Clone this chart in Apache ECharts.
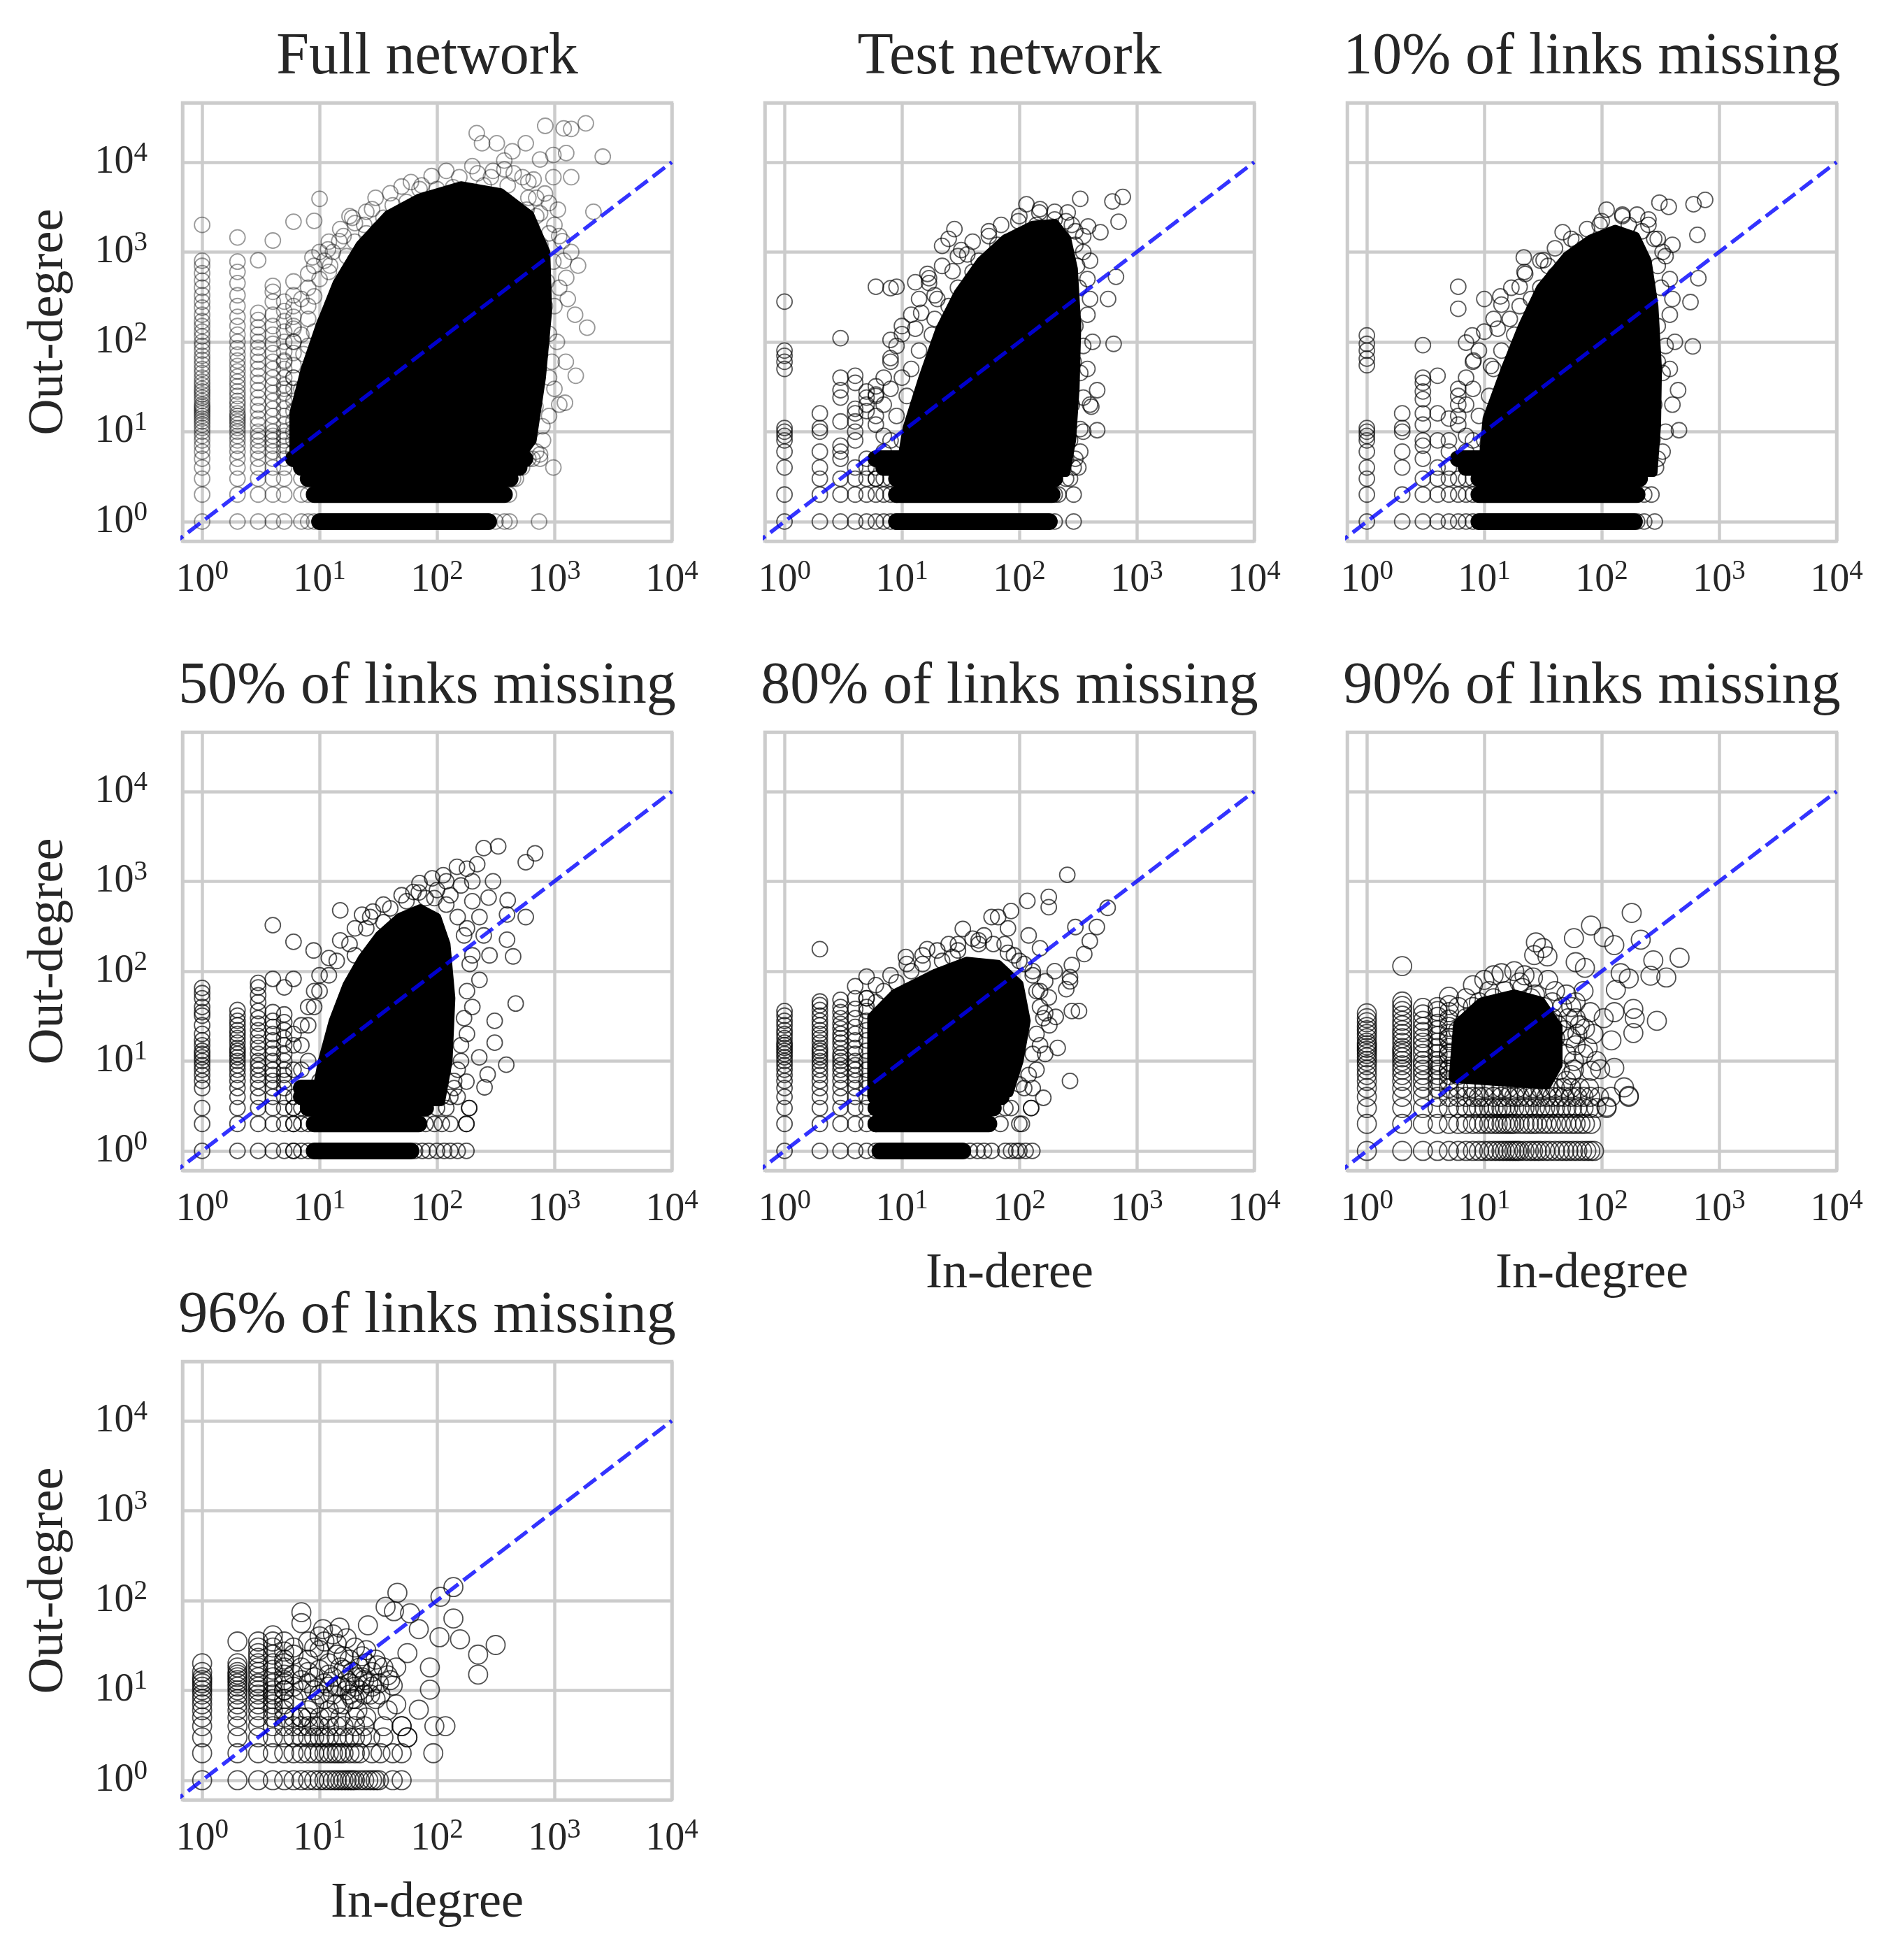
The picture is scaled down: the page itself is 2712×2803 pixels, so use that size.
<!DOCTYPE html>
<html>
<head>
<meta charset="utf-8">
<script src="https://cdn.jsdelivr.net/npm/echarts@6/dist/echarts.min.js"></script>
<style>
  html, body { margin: 0; padding: 0; background: #fff; }
  #chart { width: 2712px; height: 2803px; }
</style>
</head>
<body>
<div id="chart"></div>
<script>
// in-degree vs out-degree, one panel per network sample
const titles = ['Full network', 'Test network', '10% of links missing', '50% of links missing',
  '80% of links missing', '90% of links missing', '96% of links missing']
const xNames = ['', '', '', '', 'In-deree', 'In-degree', 'In-degree']
const yNames = ['Out-degree', '', '', 'Out-degree', '', '', 'Out-degree']
const xRange = [0.68, 10000]
const yRange = [0.605, 45700]
const diagonal = [[0.1, 0.1], [10000, 10000]]

// columns: [in-degree, [out-degrees]], rows: [out-degree, [in-degrees]]
// bands: [out-degree, from in-degree, to in-degree] where the markers run solid
// core: outline of the saturated black mass, pts: the loose markers

const fullCols = [
  [1, [1,2,3,4,5,6,7,8,9,10,11,12,13,14,15,16,17,18,19,20,22,24,26,28,30,33,36,40,45,50,56,63,70,80,90,100,115,130,150,170,200,240,280,330,400,480,580,700,800,2000]],
  [2, [1,2,3,4,5,6,7,8,9,10,11,12,13,14,15,16,18,20,22,25,28,32,36,41,47,54,62,72,85,100,120,150,190,250,330,450,600,780,1450]],
  [3, [1,2,3,4,5,6,7,8,9,10,12,14,17,20,24,29,35,42,50,60,72,86,100,120,145,175,210,810]],
  [4, [1,2,3,4,5,6,7,8,9,10,12,15,18,22,27,33,40,50,60,75,95,120,150,200,280,360,420,1340]],
  [5, [1,2,3,4,5,6,7,8,9,10,12,15,18,22,27,33,40,50,62,78,100,130,170,220,280]],
  [6, [6,8,10,13,17,22,30,40,55,75,100,140,190,250,330,470,2170]]
]
const fullRows = [[1, [7,8,9,315,375,415,740]], [2, [7,8,410]], [3, [7,445,470]], [4, [530]], [5, [600,755]]]
const fullBands = [[1, 10, 275], [2, 9, 375], [3, 8, 420], [4, 7, 500], [5, 6, 560]]
const fullCore = [[6,5],[6,16],[7.5,50],[10,150],[14,450],[22,1200],[38,2600],[70,4000],[160,5500],[350,4600],
  [620,2600],[850,1000],[880,220],[780,40],[650,8],[500,5]]
const fullPts = [
  [218,21000],[242,16200],[323,16200],[438,13200],[570,16200],[835,25300],[1200,23700],[1390,23400],[1850,27000],
  [2580,11500],[374,10400],[755,10700],[980,12000],[1260,12600],[980,6800],[1390,6800],[665,6400],
  [10,3900],[9,2220],[19,2400],[20,2090],[50,5350],[74,5500],[137,5250],
  [1520,42],[1900,144],[755,5.6],[980,4],[1230,21],[1590,705],[1260,515],[1390,1000],[2150,2800],
  [8,575],[8.7,870],[11.8,1070],[14.7,1320],[12.3,705],[8,250],[7.3,73],[25,1610],[32,1780],[35,2400],[42,3300],
  [55,3600],[71,5000],[100,5000],[155,6800],[222,7500],[288,6800],[375,8300],[535,6800],[830,4470],[580,2960],
  [755,2690],[1070,2960],[900,1610],[1170,1320],[980,780],[860,470],[830,250],[690,167],[900,123],[755,73],
  [900,40],[630,36],[690,19],[575,11.5],[535,7.6],[445,5.6],[790,11.5],
  [20,800],[15,400],[11,160],[9,60],[12,30],[30,1500],[45,2200],[80,3000],[140,4000],[250,5500],[400,5500],
  [600,4000],[700,2500],[760,1200],[750,500],[700,300],[650,150],[600,60],[550,25],[480,12],[420,7],[380,6],
  [5,30],[5,60],[6,100],[6,150],[7,300],[8,400],[9,700],[10,1000],[12,1300],[15,1800],[18,2500],[25,2800],
  [30,4000],[40,4500],[60,6000],[90,7000],[120,8000],[200,9000],[300,8000],[450,7500],[600,6000],[700,4000],
  [900,3500],[1000,2000],[1100,1500],[1200,800],[1100,400],[1000,250],[1050,100],[950,60],[1000,30],[900,15],
  [800,8],[700,6],[650,5],[1300,300],[1500,200],[1250,60],[1100,20],
  [6,40],[7,120],[8,180],[9,320],[10,500],[11,800],[13,1000],[16,1500],[20,1300],[24,2000],[28,3000],[17,900],
  [12,600],[9,130],[7,30],[8,90]
]

const testCols = [
  [1, [1,2,4,6,8,9,10,11,50,60,70,80,280]],
  [2, [1,2,3,4,6,10,11,16]],
  [3, [1,2,3,5,6,7,13,24,29,40,110]],
  [4, [1,2,3,4,8,10,13,16,18,35,42]],
  [5, [1,2,3,4,5,17,20,24,28]],
  [6, [1,2,3,4,26,32,410]]
]
const testRows = [[1, [7,8,9,200,290]], [2, [7,8,9,200,215,290]], [3, [6,7,8,250,270]], [4, [290,318]]]
const testBands = [[1, 9, 180], [2, 9, 190], [3, 9, 200], [4, 7, 230], [5, 6, 240]]
const testCore = [[9.5,3.5],[11,11],[15,40],[21,140],[30,350],[47,800],[75,1400],[130,2000],[200,2100],
  [255,1400],[290,650],[310,150],[300,30],[280,8],[250,3.5]]
const testPts = [
  [8,395],[9,410],[13,460],[17,510],[19,330],[22,1170],[32,1050],[55,1700],[115,3400],[330,3900],[760,4100],
  [620,3650],[700,2170],[258,2750],[148,2750],[98,2200],[169,1660],[460,29],[460,10.4],[635,95],[570,300],
  [665,530],[330,10.7],[410,19],[350,24],[10,122],[8,105],[8,66],[10,40],[16.5,570],[19,180],[14.6,210],
  [27,610],[36,940],[385,1920],[490,1660],
  [7,20],[8,30],[9,15],[11,25],[12,50],[14,80],[13,140],[18,120],[20,300],[25,250],[30,400],[40,600],[45,800],
  [60,900],[80,1300],[90,1000],[120,1500],[180,1800],[230,1400],[300,1200],[310,700],[320,400],[300,150],
  [290,60],[280,20],[270,8],[250,5],[6,12],[7,9],[10,8],[12,6],[15,5],[25,1400],[28,1800],[65,1200],[140,2000],
  [200,2300],[280,2000],[350,1500],[400,800],[380,200],[350,90],[330,45],
  [6,15],[6,25],[7,40],[8,60],[9,90],[10,150],[12,200],[14,300],[17,450],[22,700],[30,900],[40,1300],[55,1500],
  [70,2000],[100,2500],[150,3000],[200,2800],[250,2200],[300,1700],[350,1000],[380,500],[400,300],[420,100],
  [380,50],[400,20],[350,10],[330,6],[300,5],[7,6],[8,8]
]

const m10Cols = [
  [1, [1,2,3,4,6,8,9,10,11,55,65,80,95,118]],
  [2, [1,2,4,6,10,11,16]],
  [3, [1,2,3,5,7,8,12,16,23,28,35,40,92]],
  [4, [1,2,3,4,8,16,42]],
  [5, [1,2,3,4,6,8,14]],
  [6, [20,30,233,410]]
]
const m10Rows = [[1, [6,7,8,200,230,283]], [2, [6,7,8,230,265]], [3, [6,7,8]], [4, [290]]]
const m10Bands = [[1, 9, 190], [2, 9, 200], [3, 9, 210], [4, 7, 240], [5, 6, 250]]
const m10Core = [[9.5,3.5],[10.5,14],[15,50],[21,150],[30,400],[50,900],[80,1400],[130,1800],[195,1500],
  [245,800],[280,250],[300,50],[295,12],[275,3.5]]
const m10Pts = [
  [10,300],[13.7,320],[21.7,870],[20,410],[46.5,1660],[96,2000],[110,2950],[310,3540],[372,3170],[605,3400],
  [760,3800],[653,1550],[665,510],[570,277],[596,89],[447,29],[455,10.4],[7.9,118],[7,98],[8.1,62],[11.4,54],
  [16.5,180],[22.3,570],[32,810],
  [7,20],[8,30],[9,15],[11,25],[12,50],[14,80],[13,140],[18,120],[20,250],[25,300],[30,400],[40,550],[50,700],
  [70,1000],[90,1300],[120,1500],[170,2000],[220,1700],[280,1400],[330,1000],[300,700],[320,400],[300,150],
  [300,60],[280,20],[270,8],[250,5],[6,12],[7,9],[10,8],[12,6],[15,5],[150,2500],[250,2300],[400,1200],
  [380,200],[350,90],[330,45],[60,1300],[35,700],
  [6,15],[6,25],[7,40],[8,60],[9,80],[10,130],[12,180],[14,260],[17,400],[22,600],[30,800],[40,1100],[55,1400],
  [75,1800],[100,2200],[150,2600],[200,2600],[250,2000],[300,1400],[350,900],[380,500],[400,300],[420,100],
  [380,50],[400,20],[350,10],[330,6],[300,5],[7,6],[8,8]
]

const m50Cols = [
  [1, [1,2,3,5,6,7,8,9,10,11,12,13,15,17,20,25,32,35,40,50,57,65]],
  [2, [1,2,3,4,5,6,7,8,9,10,11,12,13,14,16,18,20,22,25,28,32,37]],
  [3, [1,2,3,4,5,6,7,8,9,10,12,14,16,19,22,26,30,36,45,54,66,74]],
  [4, [1,2,3,4,5,6,7,8,10,12,14,17,20,24,28,35,82,325]],
  [5, [1,2,3,4,5,6,7,8,10,12,15,18,22,27,33,66]],
  [6, [1,2,3,4,82,212]]
]
const m50Rows = [[1, [6,7,8,65,75,85,100,115,130,150,178]], [2, [6,7,8,80,95,110,130,178]],
  [3, [6,7,100,120,188]], [4, [110,130,150]]]
const m50Bands = [[1, 9, 60], [2, 9, 70], [3, 8, 80], [4, 7, 90], [5, 7, 100]]
const m50Core = [[9,3.5],[10.5,10],[13,28],[17,70],[23,140],[32,250],[48,400],[72,500],[100,400],[120,200],
  [132,50],[125,10],[108,3.5]]
const m50Pts = [
  [15,475],[23,425],[28.5,460],[8.9,170],[71,955],[91,1080],[113,1170],[148,1450],[180,1380],[200,1000],
  [250,2340],[332,2450],[220,1550],[570,1630],[685,2050],[400,615],[570,400],[395,224],[445,146],[468,43.6],
  [310,28],[310,16],[389,9.1],[270,7.1],[254,5.1],[229,11],[178,5.9],[188,3],[178,2],[395,427],[275,660],[63,760],
  [7,15],[8,25],[9,40],[10,60],[12,90],[14,130],[18,200],[25,300],[35,350],[40,500],[55,600],[80,650],[100,800],
  [130,700],[160,900],[200,600],[230,400],[250,250],[200,150],[230,80],[200,40],[180,20],[160,10],[140,6],
  [8,10],[7,8],[10,6],[20,150],[6,20],[120,1000],[300,1000],[180,300],[280,150],
  [6,8],[6,15],[7,25],[8,40],[9,60],[10,90],[12,140],[15,220],[20,300],[27,400],[35,550],[50,700],[70,750],
  [95,650],[120,550],[150,400],[170,250],[190,120],[180,60],[170,30],[160,15],[150,8],[140,5]
]

const m80Cols = [
  [1, [1,2,3,4,5,6,7,8,9,10,11,12,13,14,15,16,18,20,22,25,28,32,36]],
  [2, [1,2,3,4,5,6,7,8,9,10,11,12,13,14,16,18,20,22,25,28,32,37,42,46,176]],
  [3, [1,2,3,4,5,6,7,8,9,10,11,12,14,16,18,20,23,26,30,35,40,48]],
  [4, [1,2,3,4,5,6,7,8,9,10,12,14,17,20,24,30,38,50,68]],
  [5, [1,2,3,4,5,6,8,10,13,17,22,28,36,50,87]]
]
const m80Rows = [[1, [6,7,38,44,50,58,76,85,94,100,113,129]], [2, [6,69,100]], [3, [6,76,85,126]]]
const m80Bands = [[1, 6.5, 33], [2, 6, 55], [3, 6, 60], [4, 6, 70], [5, 6, 75]]
const m80Core = [[5.5,4],[5.5,31],[8.7,57],[19,95],[35.5,130],[66,120],[100,72],[115,28],[100,10],[82,4.4]]
const m80Pts = [
  [10.8,144],[16.4,176],[27,144],[33,295],[58,400],[66,400],[85,467],[117,605],[178,670],[178,515],[256,1180],
  [300,310],[565,507],[457,310],[398,216],[357,155],[280,117],[270,86],[322,36],[280,36],[204,31],[212,14],
  [166,12],[270,6],[160,3.9],[126,3],[105,2],[166,34],[166,77],[178,51],[270,77],[251,63],
  [7,60],[9,75],[12,100],[15,120],[22,130],[30,170],[45,200],[50,250],[75,200],[90,150],[110,120],[130,90],
  [140,60],[150,40],[140,20],[130,12],[120,7],[110,5],[6,45],[5,40],[25,200],[40,230],[80,300],[120,250],
  [150,180],[200,100],[180,25],[100,5.5],
  [5,50],[6,70],[8,90],[11,120],[15,150],[20,170],[30,200],[45,220],[60,200],[80,160],[100,130],[130,100],
  [150,60],[160,30],[150,15],[140,8],[130,5]
]

const m90Cols = [
  [1, [1,2,3,4,5,6,7,8,9,10,11,12,13,14,15,16,18,20,22,24,27,30,34]],
  [2, [1,2,3,4,5,6,7,8,9,10,11,12,13,14,16,18,20,22,25,28,32,36,41,46,114]],
  [3, [1,2,3,4,5,6,7,8,9,10,12,14,16,18,21,24,28,33,39]],
  [4, [1,2,3,4,5,6,7,8,9,10,12,14,16,19,22,26,31,36,40]],
  [5, [1,2,3,4,5,6,7,8,10,12,14,17,20,24,29,35,42,52]]
]
const m90Rows = [
  [1, [6,7,8,9,10,11,12,13,14,15,16,17,18,19,20,22,24,26,28,30,33,36,40,44,48,52,57,62,68,74,80,86]],
  [2, [6,7,8,9,10,11,12,13,14,15,16,17,18,20,22,24,26,28,31,34,37,41,45,50,55,60,66,72,81]],
  [3, [6,7,8,9,10,11,12,13,14,15,16,18,20,22,24,27,30,33,36,40,45,50,56,62,70,79,90,110]],
  [4, [6,7,8,9,10,12,14,16,18,20,23,26,30,34,38,43,48,55,62,70,80,95,120,170]],
  [5, [6,7,8,10,12,14,16,19,22,26,30,35,40,47,55,65,78]]
]
const m90Bands = []
const m90Core = [[5.5,6.5],[6,26],[9.5,45],[18,55],[30,46],[42,24],[42,9],[34,5.5]]
const m90Pts = [
  [180,445],[81,322],[104,240],[58,233],[128,195],[215,224],[27.5,209],[31.5,181],[34.5,146],[26.6,151],
  [60,126],[72,109],[275,132],[460,141],[260,89],[355,85],[145,95],[170,83],[132,62],[128,35],[186,38],[191,30],
  [295,28],[186,20.5],[121,17],[128,8.4],[97,8.1],[155,5.1],[170,4.1],[110,3.1],[76,14],[81,7.8],[104,30],[72,23],
  [6,40],[7,50],[8,70],[10,80],[12,90],[14,95],[18,100],[22,90],[26,85],[35,80],[40,60],[50,55],[55,40],[60,30],
  [62,20],[60,15],[58,10],[55,7],[50,6],[9,45],[11,60],[20,75],[25,50],[38,45],[42,25],[30,20],[15,40],[20,15],
  [35,10],[25,8],[12,25],[9,20],
  [5,8],[5,12],[5,18],[6,7],[6,22],[7,9],[7,14],[7,30],[8,11],[8,18],[8,40],[9,8],[9,25],[10,12],[10,35],[11,9],
  [11,18],[12,28],[12,50],[13,14],[14,8],[14,22],[15,60],[16,12],[16,35],[18,18],[18,45],[19,9],[20,28],[21,65],
  [22,14],[23,40],[25,20],[26,9],[27,55],[28,30],[30,14],[32,40],[33,22],[36,10],[38,30],[40,18],[44,8],[46,40],
  [48,22],[50,12],[52,30],[55,18],[58,8],[60,45],[65,25],[70,12],[70,60],[80,35],[85,20],[90,10]
]

const m96Cols = [
  [1, [1,2,3,4,5,6,7,8,9,10,11,12,13,14,16,20]],
  [2, [1,2,3,4,5,6,7,8,9,10,11,12,13,14,15,16,18,20,35]],
  [3, [1,2,3,4,5,6,7,8,9,10,11,12,14,16,18,20,23,26,30,35]],
  [4, [1,2,3,4,5,6,7,8,9,10,12,14,17,20,25,30,35,41]],
  [5, [1,2,3,4,5,6,7,8,10,12,15,18,22,27,35]]
]
const m96Rows = [
  [1, [6,7,8,9,10,11,12,13,14,15,16,17,18,19,20,22,24,26,28,30,32,42,50]],
  [2, [6,7,8,9,10,11,12,13,14,15,16,18,20,22,28,33,42,50,93]],
  [3, [6,7,8,9,10,11,12,14,16,18,20,23,27,35,56]],
  [4, [6,7,8,9,10,12,14,16,20,24,35,50,95,118]],
  [5, [6,7,8,10,12,15,20,25]]
]
const m96Bands = []
const m96Core = []
const m96Pts = [
  [7,74],[7,56],[10.7,48],[14.8,50],[25.8,53],[46,122],[36.5,85],[43,76],[59,72],[70,48],[107,110],[138,141],
  [138,63],[157,37],[105,39],[56,26],[87,18],[224,25],[224,15],[316,32],[87,10.2],[70,6.1],[42,11.3],[31,19],
  [38,14.7],[50,4],[56,3],
  [5,20],[6,15],[6,25],[7,10],[7,18],[8,12],[8,22],[9,7],[9,14],[10,9],[10,17],[10,28],[11,12],[12,6],[12,20],
  [13,9],[13,14],[14,25],[15,11],[16,7],[16,17],[17,13],[18,9],[18,22],[19,16],[20,11],[21,6],[22,18],[23,14],
  [24,9],[25,20],[26,12],[28,16],[30,8],[30,22],[6,8],[7,5],[8,6],[5,10],[5,13],[6,11],[9,30],[11,35],[14,33],
  [20,30],[25,28],[32,12],[35,18],[8,16],[9,10],[11,8],[12,15],[14,11],[15,18],[16,24],[18,12],[20,8],[22,10],
  [24,13],[27,9],[7,13],[6,30],[8,35],[10,40],[13,42],[17,38],[19,8],[12,11],[14,7],[17,10],[21,14],[23,24],
  [28,11],[33,9],[38,6],[45,7],[40,13],[45,18]
]

const panels = [
  { cols: fullCols, rows: fullRows, bands: fullBands, core: fullCore, pts: fullPts },
  { cols: testCols, rows: testRows, bands: testBands, core: testCore, pts: testPts },
  { cols: m10Cols, rows: m10Rows, bands: m10Bands, core: m10Core, pts: m10Pts },
  { cols: m50Cols, rows: m50Rows, bands: m50Bands, core: m50Core, pts: m50Pts },
  { cols: m80Cols, rows: m80Rows, bands: m80Bands, core: m80Core, pts: m80Pts },
  { cols: m90Cols, rows: m90Rows, bands: m90Bands, core: m90Core, pts: m90Pts },
  { cols: m96Cols, rows: m96Rows, bands: m96Bands, core: m96Core, pts: m96Pts }
]

// look
const FONT = '"Liberation Serif", "DejaVu Serif", serif'
const INK = '#262626'
const GRID = '#cccccc'
const ringSize = [22, 22, 22, 22, 22, 27, 27]
const ringAlpha = [0.5, 0.8, 0.8, 0.85, 0.85, 0.85, 0.85]

const chart = echarts.init(document.getElementById('chart'), null, { renderer: 'canvas' })

function boxOf(i) {
  const c = i % 3, r = Math.floor(i / 3)
  return { left: 261 + c * 833, top: 147 + r * 900, width: 700, height: 627 }
}

function markers(p) {
  const out = []
  p.cols.forEach(([x, ys]) => ys.forEach(y => out.push([x, y])))
  p.rows.forEach(([y, xs]) => xs.forEach(x => out.push([x, y])))
  p.pts.forEach(pt => out.push(pt))
  return out
}

function powLabel(v) {
  const e = Math.log10(v)
  const k = Math.round(e)
  if (Math.abs(e - k) > 1e-6) return ''
  return '{b|10}{s|' + k + '}'
}

const tickRich = {
  b: { fontFamily: FONT, fontSize: 56, color: INK, lineHeight: 64 },
  s: { fontFamily: FONT, fontSize: 39, color: INK, lineHeight: 36, verticalAlign: 'top' }
}

const grids = [], xAxes = [], yAxes = [], series = [], titleList = []

panels.forEach((p, i) => {
  const b = boxOf(i)
  grids.push({
    left: b.left, top: b.top, width: b.width, height: b.height,
    show: true, borderColor: GRID, borderWidth: 4.5, backgroundColor: '#fff',
    containLabel: false, outerBoundsMode: 'none'
  })
  xAxes.push({
    type: 'log', logBase: 10, gridIndex: i, min: xRange[0], max: xRange[1],
    axisLine: { show: false }, axisTick: { show: false },
    splitLine: { show: true, lineStyle: { color: GRID, width: 4.5 } },
    axisLabel: { formatter: powLabel, rich: tickRich, margin: 24 },
    name: xNames[i], nameLocation: 'middle', nameGap: 112,
    nameTextStyle: { fontFamily: FONT, fontSize: 72, color: INK }
  })
  yAxes.push({
    type: 'log', logBase: 10, gridIndex: i, min: yRange[0], max: yRange[1],
    axisLine: { show: false }, axisTick: { show: false },
    splitLine: { show: true, lineStyle: { color: GRID, width: 4.5 } },
    axisLabel: { show: i % 3 === 0, formatter: powLabel, rich: tickRich, margin: 50 },
    name: yNames[i], nameLocation: 'middle', nameGap: 155, nameRotate: 90,
    nameTextStyle: { fontFamily: FONT, fontSize: 72, color: INK }
  })
  titleList.push({
    text: titles[i], left: b.left + b.width / 2, top: b.top - 106, textAlign: 'center', padding: 0,
    textStyle: { fontFamily: FONT, fontSize: 84, fontWeight: 'normal', color: INK }
  })

  const r = ringSize[i] / 2 + 1
  if (p.core.length) {
    series.push({
      type: 'custom', xAxisIndex: i, yAxisIndex: i, clip: true, z: 2, silent: true,
      data: [[1, 1]],
      renderItem: (params, api) => ({
        type: 'polygon',
        shape: { points: p.core.map(pt => api.coord(pt)) },
        style: { fill: '#000', stroke: '#000', lineWidth: r, lineJoin: 'round' }
      })
    })
  }
  if (p.bands.length) {
    series.push({
      type: 'custom', xAxisIndex: i, yAxisIndex: i, clip: true, z: 2, silent: true,
      data: p.bands,
      renderItem: (params, api) => {
        const a = api.coord([api.value(1), api.value(0)])
        const c = api.coord([api.value(2), api.value(0)])
        return {
          type: 'rect',
          shape: { x: a[0] - r, y: a[1] - r, width: c[0] - a[0] + 2 * r, height: 2 * r, r: r },
          style: { fill: '#000' }
        }
      }
    })
  }
  series.push({
    type: 'scatter', xAxisIndex: i, yAxisIndex: i, z: 3, silent: true,
    symbol: 'circle', symbolSize: ringSize[i],
    itemStyle: { color: 'rgba(0,0,0,0)', borderColor: 'rgba(0,0,0,' + ringAlpha[i] + ')', borderWidth: 1.8 },
    data: markers(p)
  })
  series.push({
    type: 'line', xAxisIndex: i, yAxisIndex: i, z: 4, silent: true, clip: true,
    symbol: 'none', data: diagonal,
    lineStyle: { color: 'rgba(0,0,255,0.8)', width: 5.5, type: [22, 9] }
  })
})

chart.setOption({
  backgroundColor: '#fff',
  animation: false,
  title: titleList,
  grid: grids,
  xAxis: xAxes,
  yAxis: yAxes,
  series: series
})
</script>
</body>
</html>
